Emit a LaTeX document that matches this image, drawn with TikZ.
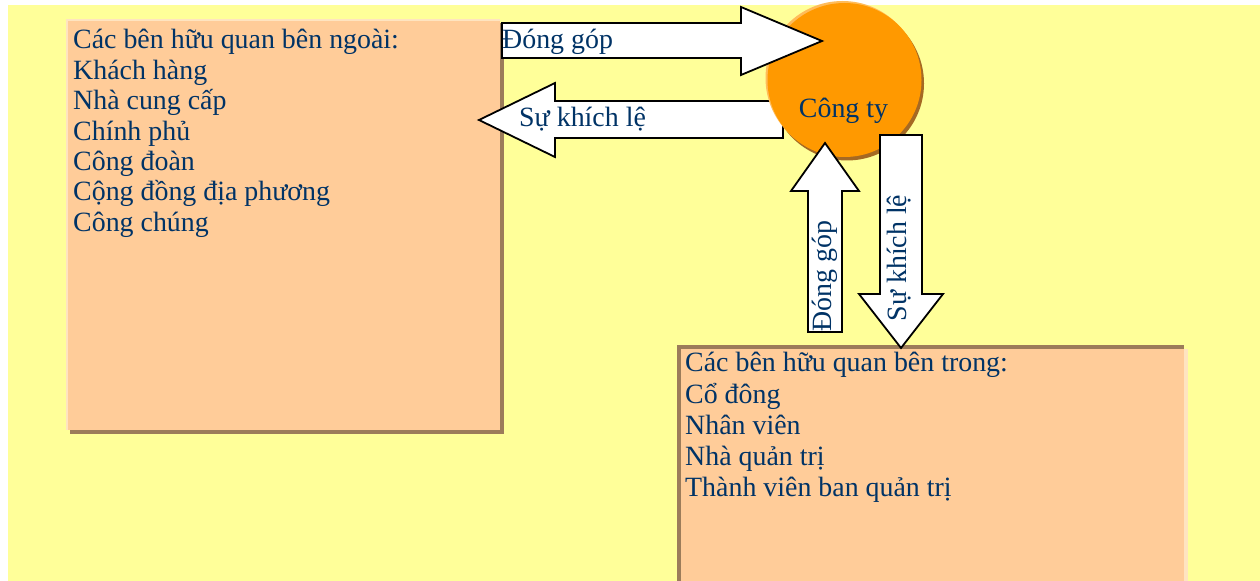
\documentclass[tikz,border=0pt]{standalone}
\usepackage{fontspec}
\setmainfont{Liberation Serif}
\usepackage{tikz}
\usetikzlibrary{calc}
\definecolor{canvas}{RGB}{255,255,153}
\definecolor{panel}{RGB}{255,204,153}
\definecolor{panellight}{RGB}{255,228,192}
\definecolor{panelshade}{RGB}{156,124,90}
\definecolor{firm}{RGB}{255,153,0}
\definecolor{firmlight}{RGB}{255,188,90}
\definecolor{firmshade}{RGB}{165,105,35}
\definecolor{ink}{RGB}{0,51,102}

\begin{document}
\begin{tikzpicture}[x=1bp, y=-1bp,
    blockarrow/.style={draw=black, fill=white, line width=1.8bp, line join=miter},
    lbl/.style={text=ink, font=\fontsize{28}{30.5}\selectfont, inner sep=0pt},
]
    \useasboundingbox (0,0) rectangle (1260,581);
    \fill[white] (0,0) rectangle (1260,581);
    \fill[canvas] (8,5) rectangle (1260,581);

    % outside stakeholders
    \fill[panelshade] (70,23) rectangle (504,434);
    \fill[panellight] (66,19) rectangle (500,430);
    \fill[panel] (68,21) rectangle (500,430);

    % inside stakeholders
    \fill[panelshade] (677,345) rectangle (1184,590);
    \fill[panellight] (681,349) rectangle (1188,590);
    \fill[panel] (681,349) rectangle (1184,590);

    % reward going out (sits under the company)
    \draw[blockarrow] (783,101) -- (555,101) -- (555,83) -- (479,120)
        -- (555,157) -- (555,138) -- (783,138) -- cycle;

    % the company
    \coordinate (C) at (844.5,80);
    \fill[firmshade] ($(C)+(2.5,3.5)$) circle[radius=77bp];
    \fill[firmlight] ($(C)+(-2,-2)$) circle[radius=77bp];
    \fill[firm] (C) circle[radius=77bp];

    % contribution coming in
    \draw[blockarrow] (502,23) -- (741,23) -- (741,7) -- (822,41)
        -- (741,75) -- (741,58) -- (502,58) -- cycle;
    % contribution from inside
    \draw[blockarrow] (808,332) -- (808,191) -- (791,191) -- (825,143)
        -- (859,191) -- (842,191) -- (842,332) -- cycle;
    % reward going in
    \draw[blockarrow] (880,135) -- (922,135) -- (922,294) -- (943,294)
        -- (901,348) -- (859,294) -- (880,294) -- cycle;

    \node[lbl, anchor=base west] (give) at (502,49) {Đóng góp};
    \node[lbl, anchor=base west] (reward) at (519,127) {Sự khích lệ};
    \node[lbl, anchor=base] (firm) at (843.5,118) {Công ty};
    \node[lbl, rotate=90] (give2) at (825,276) {Đóng góp};
    \node[lbl, rotate=90] (reward2) at (899,258) {Sự khích lệ};

    \foreach \txt [count=\i from 0] in {Các bên hữu quan bên ngoài:, Khách hàng,
        Nhà cung cấp, Chính phủ, Công đoàn, Cộng đồng địa phương, Công chúng}
        \node[lbl, anchor=base west] (ext-\i) at (73,49+30.4*\i) {\txt};

    \foreach \txt [count=\i from 0] in {Các bên hữu quan bên trong:, Cổ đông,
        Nhân viên, Nhà quản trị, Thành viên ban quản trị}
        \node[lbl, anchor=base west] (int-\i) at (685,372+31*\i) {\txt};
\end{tikzpicture}
\end{document}
